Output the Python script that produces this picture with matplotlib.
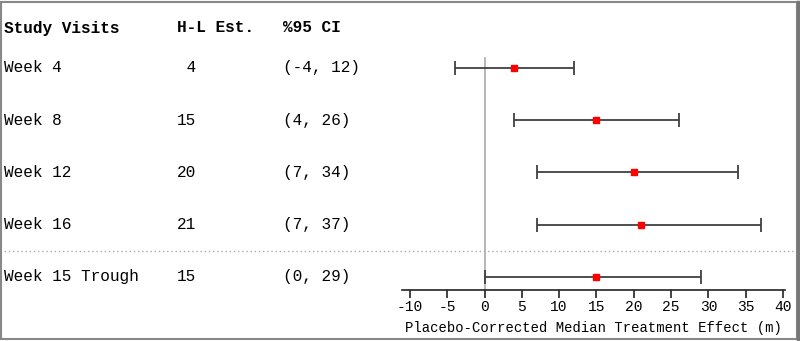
import matplotlib
matplotlib.use("Agg")
import matplotlib.pyplot as plt
from matplotlib.patches import Rectangle
from matplotlib.transforms import blended_transform_factory

plt.rcParams["font.family"] = "Liberation Mono"
plt.rcParams["axes.unicode_minus"] = False

# data
visits = ["Week 4", "Week 8", "Week 12", "Week 16", "Week 15 Trough"]
est = [4, 15, 20, 21, 15]
ci_lo = [-4, 4, 7, 7, 0]
ci_hi = [12, 26, 34, 37, 29]
rows = [1, 2, 3, 4, 5]
xticks = [-10, -5, 0, 5, 10, 15, 20, 25, 30, 35, 40]
xlabel = "Placebo-Corrected Median Treatment Effect (m)"

W, H = 800, 341
fig = plt.figure(figsize=(W / 100, H / 100), dpi=100)

# axes: left 402px, right 785px, bottom at 290px from top
ax = fig.add_axes([402 / W, (H - 290) / H, (785 - 402) / W, 290 / H])
ax.set_xlim(-11.07, 40.27)
ax.set_ylim(5.25, -0.30)

for s in ["top", "right", "left"]:
    ax.spines[s].set_visible(False)
ax.spines["bottom"].set_color("#222222")
ax.spines["bottom"].set_linewidth(1.2)
ax.set_yticks([])
ax.set_xticks(xticks)
ax.tick_params(axis="x", direction="out", length=6, width=1.2, color="#222222",
               labelsize=10.5, pad=1)
ax.set_xlabel(xlabel, fontsize=10, labelpad=5)

# zero line
ax.axvline(0, ymin=0, ymax=0.80, color="#aaaaaa", lw=1.2, zorder=1)

# error bars
for r, e, lo, hi in zip(rows, est, ci_lo, ci_hi):
    ax.errorbar(e, r, xerr=[[e - lo], [hi - e]], fmt="none", ecolor="#404040",
                elinewidth=1.3, capsize=5, capthick=1.3, zorder=2)
ax.plot(est, rows, "s", color="red", markersize=5, zorder=3)

# dotted separator across the full width
tr = blended_transform_factory(fig.transFigure, ax.transData)
ax.plot([0.0, 1.0], [4.5, 4.5], transform=tr, color="#aaaaaa", lw=1,
        linestyle=(0, (1, 2)), clip_on=False)

# table text
fs = 11.6
hy = 1 - 28 / H
fig.text(4 / W, hy, "Study Visits", fontsize=fs, fontweight="bold", va="center")
fig.text(177 / W, hy, "H-L Est.", fontsize=fs, fontweight="bold", va="center")
fig.text(283 / W, hy, "%95 CI", fontsize=fs, fontweight="bold", va="center")
for r, v, e, lo, hi in zip(rows, visits, est, ci_lo, ci_hi):
    ax.text(4 / W, r, v, transform=tr, fontsize=fs, va="center")
    ax.text(177 / W, r, f"{e:>2}", transform=tr, fontsize=fs, va="center")
    ax.text(283 / W, r, f"({lo}, {hi})", transform=tr, fontsize=fs, va="center")

# figure border
fig.patches.append(Rectangle((0.5 / W, 2 / H), (W - 3.5) / W, (H - 3.5) / H,
                             transform=fig.transFigure, fill=False,
                             edgecolor="#888888", lw=1.5))
fig.add_artist(plt.Line2D([(W - 2) / W, (W - 2) / W], [2 / H, 1 - 1.5 / H],
                          transform=fig.transFigure, color="#777777", lw=2.5))

fig.savefig("out.png", dpi=100)
